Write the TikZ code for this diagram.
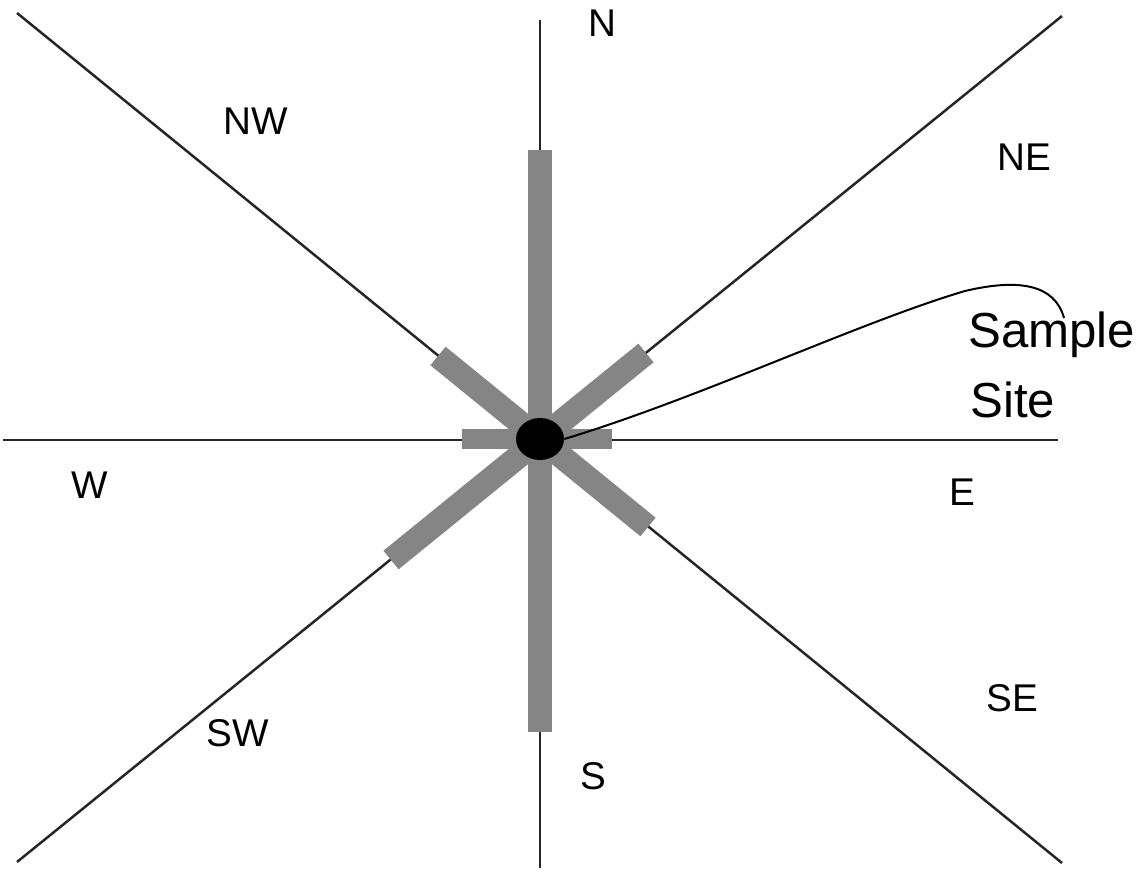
\documentclass[tikz,border=0pt]{standalone}
\usepackage{fontspec}
\setmainfont{Liberation Sans}
\usetikzlibrary{shapes.geometric}

\begin{document}
\begin{tikzpicture}[
    x=0.02cm, y=-0.02cm,
    axis/.style={line width=0.05cm, black!85},
    bar/.style={line width=0.48cm, black!48},
    hbar/.style={line width=0.40cm, black!48},
    dir/.style={inner sep=0pt, font=\fontsize{22}{26}\selectfont},
    sitetext/.style={inner sep=0pt, anchor=base west, font=\fontsize{28}{34}\selectfont}
]
\useasboundingbox (0,0) rectangle (1143,874);

% --- centre and line ends ---
\coordinate (c) at (540,439);
\coordinate (nEnd) at (540,20);
\coordinate (sEnd) at (540,868);
\coordinate (wEnd) at (3,440);
\coordinate (eEnd) at (1058,440);
\coordinate (nwEnd) at (17,13);
\coordinate (seEnd) at (1062,863);
\coordinate (neEnd) at (1062,16);
\coordinate (swEnd) at (17,862);

% Thin compass lines
\draw[axis] (nEnd) -- (sEnd);
\draw[axis] (wEnd) -- (eEnd);
\draw[axis] (nwEnd) -- (seEnd);
\draw[axis] (neEnd) -- (swEnd);

% --- grey bars ---
\coordinate (nBar) at (540,150);
\coordinate (sBar) at (540,732);
\coordinate (wBar) at (462,439);
\coordinate (eBar) at (612,439);
\coordinate (nwBar) at (438,356);
\coordinate (neBar) at (646,353);
\coordinate (seBar) at (648,527);
\coordinate (swBar) at (391,560);

\draw[bar] (nBar) -- (sBar);
\draw[hbar] (wBar) -- (eBar);
\draw[bar] (c) -- (nwBar);
\draw[bar] (c) -- (neBar);
\draw[bar] (c) -- (seBar);
\draw[bar] (c) -- (swBar);

% Sample site dot
\node[ellipse, fill=black, inner sep=0pt, minimum width=0.96cm,
      minimum height=0.84cm] (site) at (c) {};

% --- direction labels ---
\node[dir] (n) at (602,23) {N};
\node[dir] (ne) at (1024,157) {NE};
\node[dir] (e) at (962,492) {E};
\node[dir] (se) at (1012,698) {SE};
\node[dir] (s) at (593,776) {S};
\node[dir] (sw) at (238,733) {SW};
\node[dir] (w) at (90,485) {W};
\node[dir] (nw) at (256,121) {NW};

% Label and its pointer
\node[sitetext] (sample) at (968,348) {Sample};
\node[sitetext] (sitelbl) at (970,418) {Site};
\coordinate (hook) at (1064,318);
\draw[line width=0.04cm] (site.east) .. controls (700,398) and (860,322) .. (965,291)
    .. controls (1020,278) and (1055,285) .. (hook);

\end{tikzpicture}
\end{document}
